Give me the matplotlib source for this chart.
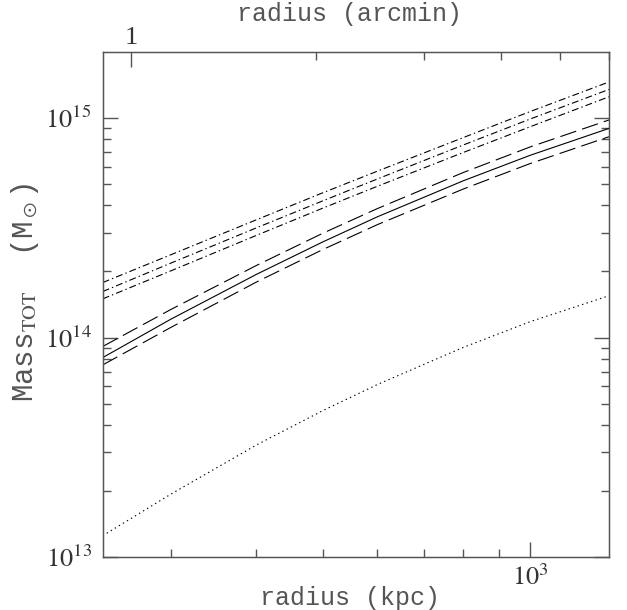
import matplotlib
matplotlib.use("Agg")
import matplotlib.pyplot as plt
from matplotlib.ticker import FixedLocator, NullFormatter, FixedFormatter

radius = [239, 300, 400, 500, 600, 800, 1000, 1303]

# total mass profiles (Msun)
mass_best = [8.1e13, 1.21e14, 1.94e14, 2.73e14, 3.55e14, 5.18e14, 6.76e14, 8.97e14]
mass_best_hi = [9.1e13, 1.34e14, 2.13e14, 2.99e14, 3.87e14, 5.65e14, 7.38e14, 9.8e14]
mass_best_lo = [7.5e13, 1.11e14, 1.79e14, 2.52e14, 3.27e14, 4.75e14, 6.2e14, 8.22e14]
mass_alt = [1.62e14, 2.18e14, 3.16e14, 4.2e14, 5.28e14, 7.54e14, 9.89e14, 1.35e15]
mass_alt_hi = [1.78e14, 2.38e14, 3.44e14, 4.57e14, 5.73e14, 8.15e14, 1.07e15, 1.46e15]
mass_alt_lo = [1.5e14, 2.01e14, 2.92e14, 3.89e14, 4.89e14, 6.97e14, 9.12e14, 1.25e15]
mass_gas = [1.25e13, 1.93e13, 3.24e13, 4.65e13, 6.11e13, 9.02e13, 1.18e14, 1.55e14]

arcmin_ticks = [1, 2, 3, 4, 5, 6]

plt.rcParams["lines.scale_dashes"] = False
plt.rcParams["mathtext.fontset"] = "stix"

GREY = "#555555"
MONO = ["Liberation Mono", "DejaVu Sans Mono"]
SERIF = ["Liberation Serif", "DejaVu Serif"]

fig = plt.figure(figsize=(6.27, 6.10), dpi=100)
L, R, B, T = 0.1638, 0.9713, 0.0869, 0.9148
ax = fig.add_axes([L, B, R - L, T - B])

lw = 0.8
ax.plot(radius, mass_best, color="black", lw=lw)
for m in (mass_best_hi, mass_best_lo):
    ax.plot(radius, m, color="black", lw=lw, dashes=(12, 4.5))
ax.plot(radius, mass_alt, color="black", lw=lw, dashes=(5, 2.2, 1, 2.2))
for m in (mass_alt_hi, mass_alt_lo):
    ax.plot(radius, m, color="black", lw=lw, dashes=(5, 2.2, 1, 2.2))
ax.plot(radius, mass_gas, color="black", lw=lw, dashes=(1, 2.4))

ax.set_xscale("log")
ax.set_yscale("log")
ax.set_xlim(239, 1303)
ax.set_ylim(1e13, 2e15)

for s in ax.spines.values():
    s.set_color(GREY)
    s.set_linewidth(1.0)

ax.xaxis.set_major_locator(FixedLocator([1000]))
ax.xaxis.set_major_formatter(FixedFormatter([r"$10^3$"]))
ax.xaxis.set_minor_locator(FixedLocator([300, 400, 500, 600, 700, 800, 900]))
ax.xaxis.set_minor_formatter(NullFormatter())
ax.yaxis.set_major_locator(FixedLocator([1e13, 1e14, 1e15]))
ax.yaxis.set_major_formatter(FixedFormatter([r"$10^{13}$", r"$10^{14}$", r"$10^{15}$"]))
ax.yaxis.set_minor_locator(FixedLocator([k * 10.0**e for e in (13, 14) for k in range(2, 10)]))
ax.yaxis.set_minor_formatter(NullFormatter())

ax.tick_params(which="both", direction="in", color=GREY, width=1.0,
               labelcolor="#333333", labelsize=19, right=True, top=False)
ax.tick_params(which="major", length=11)
ax.tick_params(which="minor", length=5.5)
ax.tick_params(axis="x", pad=6)
ax.tick_params(axis="y", pad=8)

fig.text((L + R) / 2 - 0.01, 1 - 598 / 610, "radius (kpc)", family=MONO, fontsize=18,
         color=GREY, ha="center", va="center")
fig.text(0.5 * (L + R) - 0.01, 1 - 14 / 610, "radius (arcmin)", family=MONO, fontsize=18,
         color=GREY, ha="center", va="center")
fig.text(25 / 627, 1 - 292 / 610, r"Mass$_{\rm TOT}$  (M$_\odot$)", family=MONO, fontsize=21,
         color=GREY, ha="center", va="center", rotation=90)

# top axis in arcmin
top = ax.twiny()
top.set_xscale("log")
top.set_xlim(0.9, 6.0)
top.xaxis.set_major_locator(FixedLocator([arcmin_ticks[0]]))
top.xaxis.set_major_formatter(FixedFormatter([str(arcmin_ticks[0])]))
top.xaxis.set_minor_locator(FixedLocator(arcmin_ticks[1:]))
top.xaxis.set_minor_formatter(NullFormatter())
top.tick_params(which="both", direction="in", color=GREY, width=1.0,
                labelcolor="#333333", labelsize=19, pad=2)
top.tick_params(which="major", length=11)
top.tick_params(which="minor", length=5.5)
for lab in top.get_xticklabels():
    lab.set_family(SERIF)
for s in top.spines.values():
    s.set_color(GREY)

fig.savefig("out.png", dpi=100)
